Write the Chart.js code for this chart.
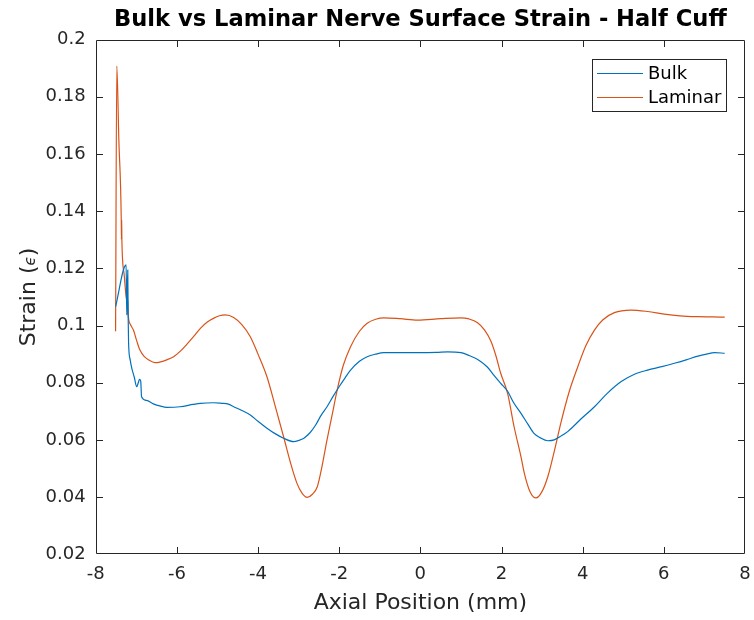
<!DOCTYPE html>
<html>
<head>
<meta charset="utf-8">
<script src="https://cdn.jsdelivr.net/npm/chart.js@4/dist/chart.umd.min.js"></script>
<style>
  html, body { margin: 0; padding: 0; background: #ffffff; }
  canvas { display: block; }
</style>
</head>
<body>
<canvas id="c" width="754" height="620"></canvas>
<script>
// Axial positions (mm) and surface strain for the bulk nerve model
const bulkX = [
  -7.51, -7.25, -7.235, -7.21, -7.20, -7.19, -7.15, -7.11, -7.05, -6.99,
  -6.95, -6.92, -6.89, -6.87, -6.75, -6.58, -6.40, -6.25, -5.92, -5.60,
  -5.42, -5.10, -4.90, -4.73, -4.60, -4.40, -4.19, -4.00, -3.78, -3.58,
  -3.37, -3.12, -3.00, -2.87, -2.72, -2.58, -2.45, -2.30, -2.15, -2.01,
  -1.85, -1.72, -1.50, -1.31, -1.10, -0.90, -0.50, -0.07, 0.40, 0.67,
  1.00, 1.20, 1.45, 1.65, 1.82, 1.98, 2.15, 2.30, 2.48, 2.65,
  2.80, 2.95, 3.14, 3.30, 3.45, 3.63, 3.95, 4.29, 4.60, 4.95,
  5.25, 5.60, 5.95, 6.26, 6.55, 6.84, 7.05, 7.25, 7.50
];
const bulkStrain = [
  0.1066, 0.1212, 0.1037, 0.1194, 0.1030, 0.0940, 0.0880, 0.0850, 0.0820, 0.0786,
  0.0800, 0.0812, 0.0805, 0.0751, 0.0738, 0.0726, 0.0718, 0.0714, 0.0716, 0.0724,
  0.0728, 0.0730, 0.0728, 0.0725, 0.0716, 0.0703, 0.0687, 0.0665, 0.0641, 0.0622,
  0.0606, 0.0594, 0.0598, 0.0606, 0.0625, 0.0652, 0.0685, 0.0716, 0.0752, 0.0784,
  0.0818, 0.0844, 0.0875, 0.0891, 0.0900, 0.0905, 0.0905, 0.0905, 0.0906, 0.0908,
  0.0905, 0.0895, 0.0878, 0.0855, 0.0825, 0.0798, 0.0770, 0.0730, 0.0693, 0.0655,
  0.0623, 0.0608, 0.0597, 0.0600, 0.0612, 0.0629, 0.0672, 0.0716, 0.0762, 0.0804,
  0.0828, 0.0844, 0.0856, 0.0868, 0.0880, 0.0893, 0.0900, 0.0905, 0.0903
];

// Axial positions (mm) and surface strain for the laminar nerve model
const laminarX = [
  -7.51, -7.48, -7.43, -7.37, -7.365, -7.36, -7.355, -7.30, -7.25, -7.22,
  -7.215, -7.21, -7.20, -7.15, -7.07, -6.99, -6.91, -6.80, -6.70, -6.54,
  -6.40, -6.25, -6.08, -5.90, -5.75, -5.59, -5.42, -5.25, -5.10, -4.95,
  -4.81, -4.60, -4.40, -4.19, -4.00, -3.78, -3.58, -3.37, -3.20, -3.04,
  -2.92, -2.79, -2.66, -2.54, -2.42, -2.30, -2.17, -2.05, -1.90, -1.72,
  -1.50, -1.31, -1.10, -0.90, -0.50, -0.07, 0.50, 1.00, 1.20, 1.41,
  1.58, 1.74, 1.86, 1.98, 2.15, 2.31, 2.48, 2.56, 2.70, 2.85,
  3.00, 3.14, 3.30, 3.46, 3.66, 3.88, 4.08, 4.29, 4.50, 4.78,
  5.19, 5.60, 6.01, 6.40, 6.84, 7.20, 7.50
];
const laminarStrain = [
  0.0980, 0.1907, 0.1650, 0.1370, 0.1300, 0.1370, 0.1300, 0.1180, 0.1100, 0.1070,
  0.1040, 0.1090, 0.1040, 0.1005, 0.0984, 0.0947, 0.0914, 0.0891, 0.0880, 0.0870,
  0.0873, 0.0880, 0.0891, 0.0912, 0.0935, 0.0961, 0.0990, 0.1012, 0.1025, 0.1034,
  0.1037, 0.1028, 0.1003, 0.0961, 0.0900, 0.0821, 0.0720, 0.0611, 0.0520, 0.0448,
  0.0415, 0.0399, 0.0410, 0.0436, 0.0510, 0.0600, 0.0690, 0.0774, 0.0860, 0.0926,
  0.0980, 0.1008, 0.1022, 0.1027, 0.1024, 0.1019, 0.1024, 0.1027, 0.1023, 0.1010,
  0.0985, 0.0945, 0.0895, 0.0833, 0.0763, 0.0646, 0.0541, 0.0485, 0.0420, 0.0397,
  0.0420, 0.0471, 0.0560, 0.0658, 0.0765, 0.0856, 0.0930, 0.0984, 0.1020, 0.1045,
  0.1054, 0.1049, 0.1040, 0.1034, 0.1031, 0.1030, 0.1029
];

// Axis tick values
const xTicks = [-8, -6, -4, -2, 0, 2, 4, 6, 8];
const yTicks = [0.02, 0.04, 0.06, 0.08, 0.1, 0.12, 0.14, 0.16, 0.18, 0.2];

const seriesNames = ['Bulk', 'Laminar'];
const seriesColors = ['#0072BD', '#D95319'];

const FONT = '"DejaVu Sans", "Liberation Sans", sans-serif';
const AXIS_COLOR = '#262626';

const toPoints = (xs, ys) => xs.map((x, i) => ({ x: x, y: ys[i] }));

// Box outline with inward ticks on all four sides, the y-axis label and the legend
const boxPlugin = {
  id: 'boxPlugin',
  afterDatasetsDraw(chart) {
    const { ctx, scales } = chart;
    const L = Math.round(scales.x.getPixelForValue(-8)) + 0.5;
    const R = Math.round(scales.x.getPixelForValue(8)) - 0.5;
    const T = Math.round(scales.y.getPixelForValue(0.2)) + 0.5;
    const B = Math.round(scales.y.getPixelForValue(0.02)) - 0.5;
    const tl = 6.5;
    ctx.save();
    ctx.strokeStyle = AXIS_COLOR;
    ctx.lineWidth = 1;
    ctx.beginPath();
    ctx.rect(L, T, R - L, B - T);
    xTicks.slice(1, -1).forEach(v => {
      const px = Math.round(scales.x.getPixelForValue(v)) + 0.5;
      ctx.moveTo(px, B); ctx.lineTo(px, B - tl);
      ctx.moveTo(px, T); ctx.lineTo(px, T + tl);
    });
    yTicks.slice(1, -1).forEach(v => {
      const py = Math.round(scales.y.getPixelForValue(v)) + 0.5;
      ctx.moveTo(L, py); ctx.lineTo(L + tl, py);
      ctx.moveTo(R, py); ctx.lineTo(R - tl, py);
    });
    ctx.stroke();

    // y-axis label: "Strain (ϵ)" with a smaller epsilon
    const parts = [
      { t: 'Strain (', f: '22px ' + FONT },
      { t: 'ϵ', f: 'italic 15px ' + FONT },
      { t: ')', f: '22px ' + FONT }
    ];
    let total = 0;
    parts.forEach(p => { ctx.font = p.f; p.w = ctx.measureText(p.t).width; total += p.w; });
    ctx.translate(27.4, (T + B) / 2);
    ctx.rotate(-Math.PI / 2);
    ctx.fillStyle = AXIS_COLOR;
    ctx.textBaseline = 'alphabetic';
    ctx.textAlign = 'left';
    let cx = -total / 2;
    parts.forEach(p => {
      ctx.font = p.f;
      ctx.fillText(p.t, cx, 7.6);
      cx += p.w;
    });
    ctx.setTransform(1, 0, 0, 1, 0, 0);

    // legend
    const lx = 592.5, ly = 59.5, lw = 134, lh = 52;
    ctx.fillStyle = '#ffffff';
    ctx.fillRect(lx, ly, lw, lh);
    ctx.strokeStyle = AXIS_COLOR;
    ctx.lineWidth = 1;
    ctx.strokeRect(lx, ly, lw, lh);
    ctx.font = '18px ' + FONT;
    ctx.textBaseline = 'middle';
    ctx.textAlign = 'left';
    seriesNames.forEach((name, i) => {
      const y = 73.5 + i * 24;
      ctx.strokeStyle = seriesColors[i];
      ctx.lineWidth = 1.2;
      ctx.beginPath();
      ctx.moveTo(597, y); ctx.lineTo(643, y);
      ctx.stroke();
      ctx.fillStyle = '#000000';
      ctx.fillText(name, 648, y + 1);
    });
    ctx.restore();
  }
};

const lineStyle = (i) => ({
  showLine: true,
  borderColor: seriesColors[i],
  borderWidth: 1.2,
  pointRadius: 0,
  cubicInterpolationMode: 'monotone'
});

new Chart(document.getElementById('c'), {
  type: 'scatter',
  data: {
    datasets: [
      Object.assign({ label: seriesNames[0], data: toPoints(bulkX, bulkStrain) }, lineStyle(0)),
      Object.assign({ label: seriesNames[1], data: toPoints(laminarX, laminarStrain) }, lineStyle(1))
    ]
  },
  options: {
    responsive: false,
    animation: false,
    devicePixelRatio: 1,
    layout: { padding: { left: 0, right: 9, top: 0, bottom: 0 } },
    plugins: {
      legend: { display: false },
      tooltip: { enabled: false },
      title: {
        display: true,
        fullSize: false,
        text: 'Bulk vs Laminar Nerve Surface Strain - Half Cuff',
        color: '#000000',
        font: { family: FONT, size: 22.6, weight: 'bold', lineHeight: 1.2 },
        padding: { top: 7, bottom: 5.4 }
      }
    },
    scales: {
      x: {
        type: 'linear',
        min: -8, max: 8,
        afterBuildTicks: s => { s.ticks = xTicks.map(v => ({ value: v })); },
        afterFit: s => { s.height = 65.7; s.paddingLeft = 0; s.paddingRight = 0; },
        grid: { display: false, drawTicks: false },
        border: { display: false },
        ticks: {
          color: AXIS_COLOR,
          font: { family: FONT, size: 18 },
          padding: 9,
          maxRotation: 0,
          callback: v => String(v)
        },
        title: {
          display: true,
          text: 'Axial Position (mm)',
          color: AXIS_COLOR,
          font: { family: FONT, size: 22, lineHeight: 1.2 },
          padding: { top: 0, bottom: 4 }
        }
      },
      y: {
        type: 'linear',
        min: 0.02, max: 0.2,
        afterBuildTicks: s => { s.ticks = yTicks.map(v => ({ value: v })); },
        afterFit: s => { s.width = 95.7; },
        grid: { display: false, drawTicks: false },
        border: { display: false },
        ticks: {
          color: AXIS_COLOR,
          font: { family: FONT, size: 18 },
          padding: 10,
          callback: v => String(Number(v.toFixed(2)))
        },
        title: { display: false }
      }
    }
  },
  plugins: [boxPlugin]
});
</script>
</body>
</html>
